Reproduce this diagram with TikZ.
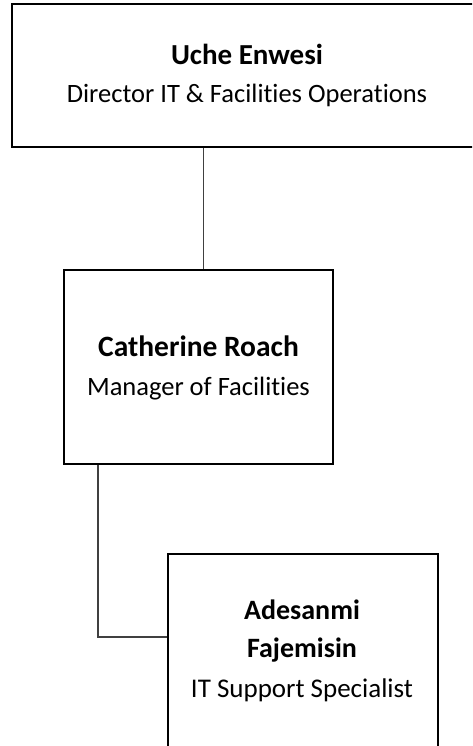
\documentclass[tikz,border=0pt]{standalone}
\usepackage{fontspec}
\setmainfont[Ligatures=CommonOff]{Carlito}
\begin{document}
\begin{tikzpicture}[x=1pt,y=-1pt,
  box/.style={draw=black,line width=2pt,rectangle,inner sep=0pt},
  nm/.style={anchor=base,inner sep=0pt,font=\fontsize{#1}{#1}\selectfont\bfseries},
  tl/.style={anchor=base,inner sep=0pt,font=\fontsize{#1}{#1}\selectfont},
  conn/.style={draw=black!75,line width=1.1pt}]
\useasboundingbox (0,0) rectangle (472,746);
\clip (0,0) rectangle (472,746);
\node[box,minimum width=473pt,minimum height=143pt] (b1) at (248.5,75.5) {};
\node[box,minimum width=269pt,minimum height=194pt] (b2) at (198.5,367) {};
\node[box,minimum width=270pt,minimum height=194pt] (b3) at (303,651) {};
\node[nm=29] (t1a) at (247,65) {Uche Enwesi};
\node[tl=26.5] (t1b) at (247,103) {Director IT \& Facilities Operations};
\node[nm=29.5] (t2a) at (198.5,356) {Catherine Roach};
\node[tl=26.5] (t2b) at (198.5,395) {Manager of Facilities};
\node[nm=28] (t3a) at (302,619) {Adesanmi};
\node[nm=28] (t3b) at (302,657) {Fajemisin};
\node[tl=27] (t3c) at (302,697) {IT Support Specialist};
\draw[conn] ([xshift=5pt]b2.north) -- ([xshift=5pt]b2.north |- b1.south);
\draw[conn] ([xshift=35pt]b2.south west) |- ([yshift=14pt]b3.west);
\end{tikzpicture}
\end{document}
